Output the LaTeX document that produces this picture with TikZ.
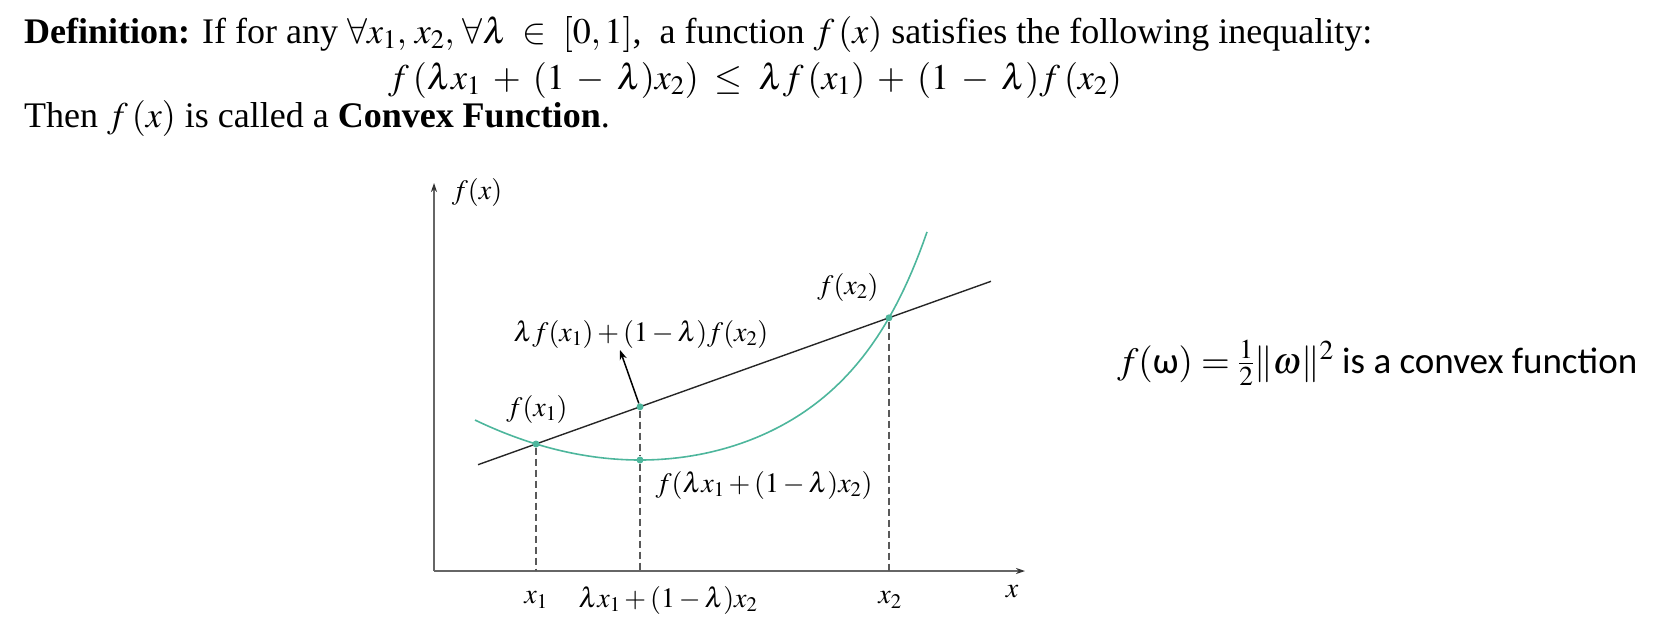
\documentclass[tikz,border=0pt]{standalone}
\usepackage{mathptmx}
\usepackage{fontspec}
\setmainfont{Liberation Serif}
\newfontfamily\calibri{Carlito}
\usetikzlibrary{arrows.meta, positioning}
\definecolor{curvegreen}{RGB}{77,182,156}
\newcommand{\widemu}{\medmuskip=6mu\relax\thickmuskip=8mu\relax}

\begin{document}
\begin{tikzpicture}[x=1pt, y=-1pt,
    >=Stealth,
    axis/.style = {draw=black!60, line width=1.2pt, -{Stealth[length=9pt, width=6pt, black!80]}},
    guide/.style = {draw=black!65, dash pattern=on 7pt off 4pt, line width=1.1pt},
    chord/.style = {draw=black!85, line width=1.4pt},
    convex/.style = {draw=curvegreen, line width=1.6pt},
    dot/.style = {circle, fill=curvegreen, inner sep=0pt, minimum size=7pt},
    plotlabel/.style = {font=\fontsize{28}{28}\selectfont, inner sep=0pt},
    heading/.style = {font=\fontsize{36}{40}\selectfont, inner sep=0pt, anchor=base west}]

    \useasboundingbox (0,0) rectangle (1654,630);

    % definition
    \node[heading] (def) at (24,43) {\textbf{Definition:} If for any $\widemu\forall x_1,\, x_2,\, \forall\lambda \in [0,1]$,\ \ a function $f\,(x)$ satisfies the following inequality:};
    \node[heading, anchor=base] (ineq) at (755,89) {$\widemu f\,(\lambda x_1+(1-\lambda)x_2)\le\lambda f\,(x_1)+(1-\lambda)f\,(x_2)$};
    \node[heading] (then) at (24,127) {Then $f\,(x)$ is called a \textbf{Convex Function}.};

    % axes
    \coordinate (O) at (434,571);
    \coordinate (ytip) at (434,183);
    \coordinate (xtip) at (1025,571);
    \draw[axis] (O) -- (ytip);
    \draw[axis] (O) -- (xtip);

    % curve and chord
    \draw[convex] plot[domain=475:927, samples=120]
        (\x, {460 - ((0.03771*(\x-640))^2 + 0.622*(exp((\x-640)/55) - 1 - (\x-640)/55))});
    \coordinate (cl) at (478,464.7);
    \coordinate (cr) at (991,281.3);
    \draw[chord] (cl) -- (cr);

    % points
    \node[dot] (A) at (536,444) {};
    \node[dot] (B) at (889,317.8) {};
    \node[dot] (M) at (640,406.8) {};
    \node[dot] (C) at (640,460) {};
    \coordinate (a0) at (536,571);
    \coordinate (b0) at (889,571);
    \coordinate (c0) at (640,571);
    \draw[guide] (A) -- (a0);
    \draw[guide] (B) -- (b0);
    \draw[guide] (M) -- (C);
    \draw[guide] (C) -- (c0);

    \coordinate (tip) at (620,350);
    \draw[->, line width=1.5pt] (M) -- (tip);

    % labels
    \node[plotlabel] (fx) at (477,192) {$f(x)$};
    \node[plotlabel] (fa) at (537,409) {$f(x_1)$};
    \node[plotlabel] (fb) at (848,287) {$f(x_2)$};
    \node[plotlabel] (fm) at (641,334) {$\lambda f(x_1)+(1-\lambda)f(x_2)$};
    \node[plotlabel] (fc) at (764,485) {$f(\lambda x_1+(1-\lambda)x_2)$};
    \node[plotlabel] (xa) at (536,600) {$x_1$};
    \node[plotlabel] (xm) at (668,600) {$\lambda x_1+(1-\lambda)x_2$};
    \node[plotlabel] (xb) at (890,600) {$x_2$};
    \node[plotlabel] (xx) at (1012,592) {$x$};

    % note
    \node[anchor=base west, inner sep=0pt, font=\calibri\fontsize{37}{37}\selectfont] (note) at (1117,373) {$f(\mbox{ω}) = \frac{1}{2}\|\omega\|^2$ is a convex function};
\end{tikzpicture}
\end{document}
